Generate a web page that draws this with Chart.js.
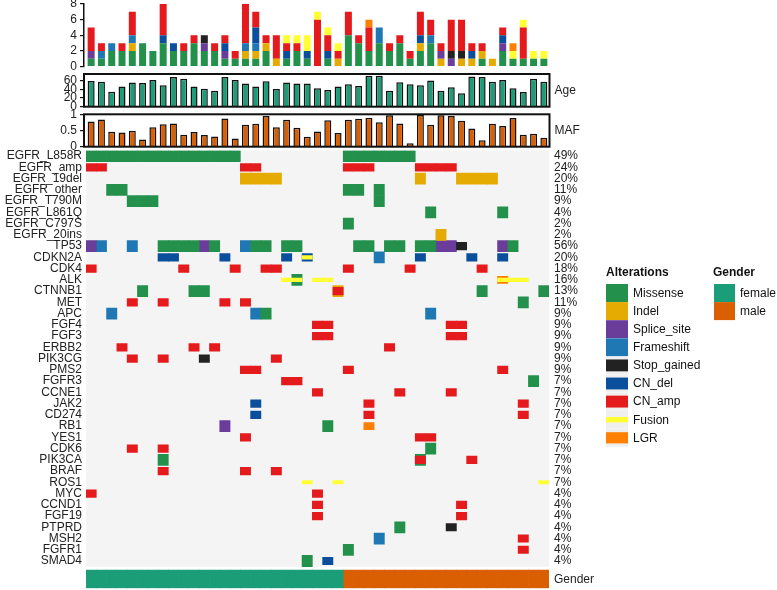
<!DOCTYPE html>
<html><head><meta charset="utf-8">
<script src="https://cdn.jsdelivr.net/npm/chart.js@4.4.1/dist/chart.umd.min.js"></script>
<style>
html,body{margin:0;padding:0;background:#fff;}
#wrap{position:relative;width:777px;height:590px;overflow:hidden;background:#fff;}
#wrap canvas{position:absolute;left:0;top:0;}
</style></head><body>
<div id="wrap">
<canvas id="cTop" width="777" height="590"></canvas>
<canvas id="cAge" width="777" height="590"></canvas>
<canvas id="cMaf" width="777" height="590"></canvas>
<canvas id="cGrid" width="777" height="590"></canvas>
</div>
<script>
// ---------------- DATA ----------------
const N = 45; // samples
const altTypes = ['Missense','Indel','Splice_site','Frameshift','Stop_gained','CN_del','CN_amp','Fusion','LGR'];
const altCodes = ['M','I','S','F','X','D','A','U','L'];

// top panel: number of alterations per sample, by type
const cntMissense  = [1,1,2,2,2,3,2,3,2,2, 3,2,2,1,1,1,1,2,0,1, 2,1,0,1,0,4,3,2,3,2, 3,1,2,3,0,0,0,0,1,0, 2,1,1,1,1];
const cntIndel     = [0,0,0,0,1,0,0,0,0,0, 0,0,0,0,0,1,1,1,1,0, 0,0,0,0,1,0,0,0,0,0, 0,0,1,0,1,0,1,1,1,1, 0,0,0,0,0];
const cntSplice    = [1,0,0,0,0,0,0,0,0,0, 0,1,0,1,0,0,0,0,0,0, 0,0,0,0,0,0,0,0,0,0, 0,0,0,0,1,1,0,0,0,0, 1,0,0,0,0];
const cntFrameshift= [0,1,1,0,1,0,0,0,0,0, 0,0,0,0,0,1,1,0,0,0, 0,0,0,0,0,0,0,0,2,0, 0,0,0,1,0,0,0,0,0,0, 0,0,0,0,0];
const cntStop      = [0,0,0,0,0,0,0,0,0,0, 0,1,0,0,0,0,0,0,0,0, 0,0,0,0,0,0,0,0,0,0, 0,0,0,0,0,1,1,0,0,0, 0,0,0,0,0];
const cntCNdel     = [0,0,0,0,0,0,0,1,1,0, 0,0,0,1,0,0,2,0,0,1, 0,1,0,1,0,0,0,0,0,0, 0,0,1,0,0,0,0,1,0,0, 1,0,0,0,0];
const cntCNamp     = [3,1,0,1,3,0,0,4,0,1, 1,0,1,1,1,5,2,1,3,1, 1,0,6,2,1,3,1,3,0,1, 1,1,3,2,1,4,4,1,1,0, 1,0,4,0,0];
const cntFusion    = [0,0,0,0,0,0,0,0,0,0, 0,0,0,0,0,0,0,0,0,1, 1,2,1,1,1,0,0,0,0,0, 0,0,0,0,0,0,0,0,0,0, 0,1,1,1,1];
const cntLGR       = [0,0,0,0,0,0,0,0,0,0, 0,0,0,0,0,0,0,0,0,0, 0,0,0,0,0,0,0,1,0,0, 0,0,0,0,0,0,0,0,0,0, 0,1,0,0,0];
const topCounts = [cntMissense,cntIndel,cntSplice,cntFrameshift,cntStop,cntCNdel,cntCNamp,cntFusion,cntLGR];
const topTicks = [0,2,4,6,8];

const ages = [60,58,35,47,56,55,62,50,69,65, 47,42,37,69,62,54,47,59,41,56, 54,54,43,39,47,52,48,72,72,37, 57,52,50,61,37,45,31,70,69,58, 62,43,34,65,58];
const ageTicks = [0,20,40,60];
const mafs = [0.79,0.86,0.47,0.45,0.50,0.23,0.61,0.71,0.73,0.38, 0.46,0.37,0.32,0.89,0.26,0.69,0.72,0.97,0.61,0.85, 0.60,0.31,0.48,0.83,0.43,0.85,0.88,0.91,0.77,0.99, 0.73,0.11,1.00,0.69,0.99,0.97,0.82,0.57,0.20,0.72, 0.65,0.90,0.38,0.41,0.28];
const mafTicks = [0,0.5,1];

const genes = ['EGFR_L858R','EGFR_amp','EGFR_19del','EGFR_other','EGFR_T790M','EGFR_L861Q','EGFR_C797S','EGFR_20ins','TP53','CDKN2A','CDK4','ALK','CTNNB1','MET','APC','FGF4','FGF3','ERBB2','PIK3CG','PMS2','FGFR3','CCNE1','JAK2','CD274','RB1','YES1','CDK6','PIK3CA','BRAF','ROS1','MYC','CCND1','FGF19','PTPRD','MSH2','FGFR1','SMAD4'];
const pctLabels = ['49%','24%','20%','11%','9%','4%','2%','2%','56%','20%','18%','16%','13%','11%','9%','9%','9%','9%','9%','9%','7%','7%','7%','7%','7%','7%','7%','7%','7%','7%','4%','4%','4%','4%','4%','4%','4%'];

// one character per sample ('.' = none); digits are combined alterations
const combos = {'1':'MU','2':'DU','3':'MA','4':'IA','5':'LU'};
const matrix = {
 EGFR_L858R: 'MMMMM MMMMM MMMMM ..... ..... MMMMM MM... ..... .....',
 EGFR_amp:   'AA... ..... ..... AA... ..... AAA.. ..AAA A.... .....',
 EGFR_19del: '..... ..... ..... IIII. ..... ..... ..I.. .IIII .....',
 EGFR_other: '..MM. ..... ..... ..... ..... MM.M. ..... ..... .....',
 EGFR_T790M: '....M MM... ..... ..... ..... ...M. ..... ..... .....',
 EGFR_L861Q: '..... ..... ..... ..... ..... ..... ...M. ..... M....',
 EGFR_C797S: '..... ..... ..... ..... ..... M.... ..... ..... .....',
 EGFR_20ins: '..... ..... ..... ..... ..... ..... ....I ..... .....',
 TP53:       'SF..F ..MMM MSM.. FMM.M M.... .MM.M M.MMS SX... SM...',
 CDKN2A:     '..... ..DD. ...D. ....D .2... ...F. ..D.. ..D.. D....',
 CDK4:       'A.... ....A ....A ..AA. ..... A.... .A... ...A. .....',
 ALK:        '..... ..... ..... ....U 1.UU. ..... ..... ..... 5UU..',
 CTNNB1:     '..... M.... MM... ..... ....4 ..... ..... ...M. ....M',
 MET:        '....A ..A.. ...A. A.... ..... ..... ..... ..... ..M..',
 APC:        '..F.. ..... ..... .FM.. ..... ..... ...F. ..... .....',
 FGF4:       '..... ..... ..... ..... ..AA. ..... ..... AA... .....',
 FGF3:       '..... ..... ..... ..... ..AA. ..... ..... AA... .....',
 ERBB2:      '...A. ..... A.A.. ..... ..... ....A ..... ..... .....',
 PIK3CG:     '....A ..A.. .X... ...A. ..... ..... ..... ..... .....',
 PMS2:       '..... ..... ..... AA... ..... A.... ..... ..... A....',
 FGFR3:      '..... ..... ..... ....A A.... ..... ..... ..... ...M.',
 CCNE1:      '..... ..... ..... ..... ..A.. ..... A.... A.... .....',
 JAK2:       '..... ..... ..... .D... ..... ..A.. ..... ..... ..A..',
 CD274:      '..... ..... ..... .D... ..... ..A.. ..... ..... ..A..',
 RB1:        '..... ..... ...S. ..... ...M. ..L.. ..... ..... .....',
 YES1:       '..... ..... ..... A.... ..... ..... ..AA. ..... .....',
 CDK6:       '....A ..A.. ..... ..... ..... ..... ...M. ..... .....',
 PIK3CA:     '..... ..M.. ..... ..... ..... ..... ..3.. ..A.. .....',
 BRAF:       '..... ..A.. ..... A..A. ..... ..... ..... ..... .....',
 ROS1:       '..... ..... ..... ..... .U..U ..... ..... ..... ....U',
 MYC:        'A.... ..... ..... ..... ..A.. ..... ..... ..... .....',
 CCND1:      '..... ..... ..... ..... ..A.. ..... ..... .A... .....',
 FGF19:      '..... ..... ..... ..... ..A.. ..... ..... .A... .....',
 PTPRD:      '..... ..... ..... ..... ..... ..... M.... X.... .....',
 MSH2:       '..... ..... ..... ..... ..... ...F. ..... ..... ..A..',
 FGFR1:      '..... ..... ..... ..... ..... M.... ..... ..... ..A..',
 SMAD4:      '..... ..... ..... ..... .M.D. ..... ..... ..... .....'
};
const gender = 'FFFFF FFFFF FFFFF FFFFF FFFFF MMMMM MMMMM MMMMM MMMMM';
const genderNames = ['female','male'];

// ---------------- STYLE / LAYOUT ----------------
const altColors = ['#23914B','#E6AB02','#6A3D9A','#1F78B4','#222222','#0B4F9C','#E41A1C','#FFFF33','#FF7F00'];
const altHeight = [1,1,1,1,0.66,0.66,0.66,0.3,0.62];
const genderColors = ['#1B9E77','#D95F02'];
const GRID_BG = '#F4F4F4';
const COL_LEFT = 86, COL_RIGHT = 549;
const pitch = (COL_RIGHT - COL_LEFT) / N;
const GENDER_ROW = 37.61, GENDER_H = 1.63, ROW_MAX = 38.42;

Chart.defaults.font.family = "'Liberation Sans', Arial, Helvetica, sans-serif";
Chart.defaults.font.size = 12;
Chart.defaults.color = '#222';

function xLinear(areaLeft, areaRight, stacked) {
  return { type:'linear', display:false, offset:false, stacked: !!stacked,
    min: -0.5 - (COL_LEFT - areaLeft) / pitch,
    max: N - 0.5 + (areaRight - COL_RIGHT) / pitch,
    grid:{display:false} };
}
function fixWidth(w){ return s => { s.width = w; s.paddingTop = 0; s.paddingBottom = 0; }; }
function setTicks(vals){ return s => { s.ticks = vals.map(v => ({value:v})); }; }
const clean = s => s.replace(/ /g,'');
const basePlugins = { legend:{display:false}, tooltip:{enabled:false} };

const boxPlugin = { id:'box', afterDraw(chart){
  const {ctx, chartArea:a} = chart; ctx.save();
  ctx.strokeStyle = '#111'; ctx.lineWidth = 2;
  ctx.strokeRect(a.left, a.top, a.right - a.left, a.bottom - a.top); ctx.restore(); } };

function leftAxis(min, max, ticks, width, cb) {
  return { type:'linear', stacked:true, min, max, afterFit: fixWidth(width), afterBuildTicks: setTicks(ticks),
    ticks:{ autoSkip:false, padding:3, callback: cb || (v => String(v)) },
    grid:{ display:true, drawOnChartArea:false, drawTicks:true, tickLength:4, color:'#111', lineWidth:1.2 },
    border:{ display:true, color:'#111', width:1.5 } };
}
function rightLabel(min, max, text, width) {
  return { type:'linear', position:'right', min, max, afterFit: fixWidth(width),
    afterBuildTicks: setTicks([(min+max)/2]),
    ticks:{ autoSkip:false, padding:5, callback: () => text },
    grid:{ display:false, drawTicks:false }, border:{ display:false } };
}

// ---------------- TOP STACKED BARS ----------------
new Chart(document.getElementById('cTop'), {
  type:'bar',
  data:{ datasets: altTypes.map((t,k) => ({
    label:t, backgroundColor:altColors[k], borderWidth:0, barPercentage:0.68, categoryPercentage:1,
    data: topCounts[k].map((v,i) => ({x:i, y:v})).filter(p => p.y > 0) })) },
  options:{ responsive:false, animation:false, events:[],
    layout:{ padding:{ top:4, bottom:590-66.7, left:0, right:777-549.5 } },
    plugins: basePlugins,
    scales:{ x: xLinear(84, 549.5, true), y: leftAxis(0, 8, topTicks, 84) } }
});

// ---------------- AGE ----------------
new Chart(document.getElementById('cAge'), {
  type:'bar',
  data:{ datasets:[{ label:'Age', data: ages.map((v,i)=>({x:i,y:v})), backgroundColor:'#1B9E77',
    borderColor:'#111', borderWidth:1.5, barPercentage:0.68, categoryPercentage:1 }] },
  options:{ responsive:false, animation:false, events:[],
    layout:{ padding:{ top:74, bottom:590-106.7, left:0, right:0 } },
    plugins: basePlugins,
    scales:{ x: xLinear(84, 549.5), y: leftAxis(0, 76, ageTicks, 84), y2: rightLabel(0, 76, 'Age', 777-549.5) } },
  plugins:[boxPlugin]
});

// ---------------- MAF ----------------
new Chart(document.getElementById('cMaf'), {
  type:'bar',
  data:{ datasets:[{ label:'MAF', data: mafs.map((v,i)=>({x:i,y:v})), backgroundColor:'#D95F02',
    borderColor:'#111', borderWidth:1.5, barPercentage:0.68, categoryPercentage:1 }] },
  options:{ responsive:false, animation:false, events:[],
    layout:{ padding:{ top:114.3, bottom:590-146.7, left:0, right:0 } },
    plugins: basePlugins,
    scales:{ x: xLinear(84, 549.5), y: leftAxis(0, 1.02, mafTicks, 84), y2: rightLabel(0, 1.02, 'MAF', 777-549.5) } },
  plugins:[boxPlugin]
});

// ---------------- ONCOPRINT GRID ----------------
const drawOrder = [7,4,5,6,8,0,1,2,3]; // thin marks on top
const cellData = altCodes.map(() => []);
genes.forEach((g, r) => {
  const row = clean(matrix[g]);
  for (let i = 0; i < N; i++) {
    const c = row[i];
    if (c === '.') continue;
    const codes = combos[c] || c;
    for (const code of codes) {
      const k = altCodes.indexOf(code);
      const h = altHeight[k] / 2;
      cellData[k].push({ x:i, y:[r - h, r + h] });
    }
  }
});
const gStr = clean(gender);
const genderData = [[],[]];
for (let i = 0; i < N; i++) {
  genderData[gStr[i] === 'F' ? 0 : 1].push({ x:i, y:[GENDER_ROW - GENDER_H/2, GENDER_ROW + GENDER_H/2] });
}
const gridDatasets = drawOrder.map(k => ({ label: altTypes[k], data: cellData[k], backgroundColor: altColors[k],
  borderWidth:0, grouped:false, barPercentage:1, categoryPercentage:1 }));
genderNames.forEach((n, j) => gridDatasets.push({ label:n, data: genderData[j], backgroundColor: genderColors[j],
  borderWidth:0, grouped:false, barPercentage:1, categoryPercentage:1 }));

const bgPlugin = { id:'bg', beforeDatasetsDraw(chart){
  const {ctx, chartArea:a, scales:{y}} = chart;
  const t = y.getPixelForValue(-0.5), b = y.getPixelForValue(genes.length - 0.5);
  ctx.save(); ctx.fillStyle = GRID_BG; ctx.fillRect(a.left, t, a.right - a.left, b - t); ctx.restore(); } };

const legendPlugin = { id:'oncoLegend', afterDraw(chart){
  const ctx = chart.ctx; ctx.save();
  ctx.textBaseline = 'middle'; ctx.textAlign = 'left';
  const fam = "'Liberation Sans', Arial, sans-serif";
  ctx.fillStyle = '#111'; ctx.font = 'bold 12px ' + fam;
  ctx.fillText('Alterations', 606, 273);
  ctx.fillText('Gender', 713, 273);
  ctx.font = '12px ' + fam;
  altTypes.forEach((t, k) => {
    const y = 284 + k * 18.1;
    ctx.fillStyle = '#EFEFEF'; ctx.fillRect(606, y, 22, 18);
    const h = 18 * altHeight[k];
    ctx.fillStyle = altColors[k]; ctx.fillRect(606, y + (18 - h) / 2, 22, h);
    ctx.fillStyle = '#111'; ctx.fillText(t, 633, y + 9.5);
  });
  genderNames.forEach((n, j) => {
    const y = 284 + j * 18.1;
    ctx.fillStyle = genderColors[j]; ctx.fillRect(714, y, 21, 18);
    ctx.fillStyle = '#111'; ctx.fillText(n, 740, y + 9.5);
  });
  ctx.restore(); } };

new Chart(document.getElementById('cGrid'), {
  type:'bar',
  data:{ datasets: gridDatasets },
  options:{ responsive:false, animation:false, events:[],
    layout:{ padding:{ top:150.5, bottom:1.7, left:0, right:0 } },
    plugins: basePlugins,
    scales:{
      x: xLinear(COL_LEFT, COL_RIGHT),
      y: { type:'linear', reverse:true, min:-0.5, max:ROW_MAX, afterFit: fixWidth(COL_LEFT),
        afterBuildTicks: setTicks(genes.map((g,i)=>i)),
        ticks:{ autoSkip:false, padding:4, callback:(v,i)=>genes[i] },
        grid:{ display:false, drawTicks:false }, border:{ display:false } },
      y2: { type:'linear', position:'right', reverse:true, min:-0.5, max:ROW_MAX, afterFit: fixWidth(777 - COL_RIGHT),
        afterBuildTicks: setTicks(genes.map((g,i)=>i).concat([GENDER_ROW])),
        ticks:{ autoSkip:false, padding:5, callback:(v,i)=> i < pctLabels.length ? pctLabels[i] : 'Gender' },
        grid:{ display:false, drawTicks:false }, border:{ display:false } }
    } },
  plugins:[bgPlugin, legendPlugin]
});
</script>
</body></html>
